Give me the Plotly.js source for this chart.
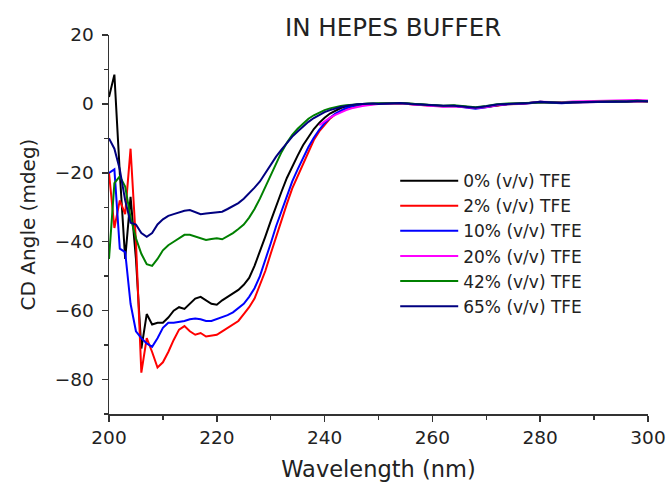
<!DOCTYPE html>
<html>
<head>
<meta charset="utf-8">
<script src="https://cdn.plot.ly/plotly-3.0.1.min.js"></script>
<style>html,body{margin:0;padding:0;background:#fff;}#chart{width:667px;height:483px;}</style>
</head>
<body>
<div id="chart"></div>
<script>
// Wavelength (nm): 1 nm steps 200-250, then 2 nm steps to 300
const wavelength = [200,201,202,203,204,205,206,207,208,209,210,211,212,213,214,215,216,217,218,219,220,221,222,223,224,225,226,227,228,229,230,231,232,233,234,235,236,237,238,239,240,241,242,243,244,245,246,247,248,249,250,
  252,254,256,258,260,262,264,266,268,270,272,274,276,278,280,282,284,286,288,290,292,294,296,298,300];
// the 20% trace only appears from ~239 nm on
const wavelength20 = [239,240,241,242,243,244,245,246,247,248,249,250,
  252,254,256,258,260,262,264,266,268,270,272,274,276,278,280,282,284,286,288,290,292,294,296,298,300];

const tfe0 = [2,8.5,-20,-45,-27,-45,-71,-61,-64,-63.5,-63.5,-62,-60,-59,-59.5,-58,-56.5,-56,-57,-58,-58.3,-57,-56,-55,-54,-52.5,-50.5,-47,-43,-38.5,-34,-29.5,-25.5,-21.5,-18,-15,-12,-9.5,-7.3,-5.5,-4,-2.8,-1.9,-1.2,-0.7,-0.4,-0.2,0,0,0.1,0,
  0.2,0.3,0,-0.3,-0.4,-0.6,-0.5,-0.8,-1.1,-0.8,-0.3,0,0,0.3,0.6,0.4,0.3,0.5,0.5,0.6,0.7,0.8,0.7,0.9,0.8];
const tfe2 = [-20,-36,-28,-32,-13,-40,-78,-68,-72,-76.5,-75,-72,-68.5,-65.5,-64.5,-66,-67,-66.5,-67.5,-67.3,-67,-66,-65,-64,-63,-61,-59,-56.5,-52.5,-48.5,-43.5,-38.5,-34,-29,-24.5,-21,-17,-13.5,-10.5,-8,-6,-4.3,-3,-2,-1.3,-0.8,-0.5,-0.3,-0.1,0,0,
  0.1,0.2,-0.1,-0.4,-0.5,-0.7,-0.6,-0.9,-1.2,-0.9,-0.4,-0.1,0,0.2,0.5,0.4,0.3,0.4,0.5,0.6,0.6,0.7,0.7,0.8,0.7];
const tfe10 = [-20,-19,-42,-43,-58,-66,-68,-69.5,-70.5,-68,-65,-63.5,-63.5,-63.3,-63,-62.5,-62.3,-62.5,-63,-63,-62.5,-62,-61.3,-60.5,-59.3,-58,-56,-53.5,-50,-45.5,-40.5,-35.5,-31,-26.5,-22.5,-19,-15.5,-12.5,-9.8,-7.5,-5.6,-4,-2.8,-1.9,-1.2,-0.7,-0.4,-0.2,0,0,0.1,
  0.2,0.3,0,-0.3,-0.5,-0.7,-0.6,-1,-1.4,-1,-0.4,-0.1,0,0.2,0.5,0.3,0.2,0.4,0.5,0.6,0.6,0.7,0.7,0.8,0.8];
const tfe20 = [-6.2,-5,-4,-3.2,-2.4,-1.8,-1.3,-0.9,-0.6,-0.4,-0.2,0,
  0.1,0.2,-0.1,-0.4,-0.5,-0.8,-0.7,-0.9,-1.2,-0.9,-0.3,0,0.1,0.3,0.6,0.5,0.5,0.7,0.8,0.8,0.9,1,1,1.1,1];
const tfe42 = [-45,-23,-21,-24,-33,-39,-43.5,-46.5,-47,-45,-42.5,-41,-40,-39,-38,-38,-38.5,-39,-39.5,-39.2,-39,-39.3,-38.5,-37.5,-36.3,-35,-33,-30.5,-27.5,-24,-20.5,-17,-14,-11.3,-9,-7.2,-5.6,-4.3,-3.3,-2.5,-1.8,-1.3,-0.9,-0.6,-0.4,-0.2,-0.1,0,0.1,0.1,0,
  0.2,0.3,0.1,-0.2,-0.3,-0.5,-0.4,-0.7,-1,-0.6,-0.1,0.1,0.2,0.4,0.6,0.5,0.4,0.5,0.6,0.6,0.7,0.8,0.7,0.9,0.8];
const tfe65 = [-10,-13,-19,-28,-34.5,-35,-37.5,-38.6,-37.5,-35,-33.5,-32.5,-32,-31.5,-31,-30.8,-31.3,-32,-31.8,-31.7,-31.5,-31.3,-30.5,-29.7,-28.8,-27.5,-26,-24.3,-22.5,-20,-17.5,-15.3,-13.3,-11.3,-9.5,-8,-6.5,-5.2,-4.1,-3.2,-2.4,-1.8,-1.3,-0.9,-0.6,-0.3,-0.1,0,0.1,0.1,0,
  0.2,0.3,0,-0.2,-0.4,-0.5,-0.5,-0.8,-1.1,-0.7,-0.2,0,0.1,0.3,0.6,0.4,0.3,0.5,0.5,0.6,0.6,0.7,0.7,0.8,0.8];

const seriesNames = ['0% (v/v) TFE','2% (v/v) TFE','10% (v/v) TFE','20% (v/v) TFE','42% (v/v) TFE','65% (v/v) TFE'];
const seriesX = [wavelength, wavelength, wavelength, wavelength20, wavelength, wavelength];
const seriesData = [tfe0, tfe2, tfe10, tfe20, tfe42, tfe65];
const seriesColors = ['#000000','#ff0000','#0000ff','#ff00ff','#008000','#000080'];

const traces = seriesData.map((d, i) => ({
  x: seriesX[i], y: d, type: 'scatter', mode: 'lines',
  name: seriesNames[i],
  line: {color: seriesColors[i], width: 2}
}));

const FONT = 'DejaVu Sans, Verdana, sans-serif';
const tickFont = {family: FONT, size: 18.5, color: '#222'};
const layout = {
  width: 667, height: 483,
  margin: {l: 109, r: 19, t: 35, b: 69},
  paper_bgcolor: '#fff', plot_bgcolor: '#fff',
  title: {text: 'IN HEPES BUFFER', font: {family: FONT, size: 24.5, color: '#222'},
          xref: 'paper', x: 0.527, xanchor: 'center', yref: 'container', y: 0.944, yanchor: 'middle'},
  xaxis: {range: [200, 300], showgrid: false, zeroline: false, showline: true, linecolor: '#333', linewidth: 1.5,
          ticks: 'outside', ticklen: 6, tickwidth: 1.5, tickcolor: '#333', dtick: 20, tick0: 200,
          minor: {dtick: 10, ticks: 'outside', ticklen: 4, tickwidth: 1.5, tickcolor: '#333'},
          tickfont: tickFont, title: {text: 'Wavelength (nm)', font: {family: FONT, size: 22.5, color: '#222'}, standoff: 14}},
  yaxis: {range: [-90, 20], showgrid: false, zeroline: false, showline: true, linecolor: '#333', linewidth: 1.5,
          ticks: 'outside', ticklen: 6, tickwidth: 1.5, tickcolor: '#333', dtick: 20, tick0: 0, ticklabelstandoff: 4,
          minor: {dtick: 10, ticks: 'outside', ticklen: 4, tickwidth: 1.5, tickcolor: '#333'},
          tickfont: tickFont, title: {text: 'CD Angle (mdeg)', font: {family: FONT, size: 20, color: '#222'}, standoff: 14}},
  legend: {x: 0.531, y: 0.662, xanchor: 'left', yanchor: 'top', bgcolor: 'rgba(0,0,0,0)',
           font: {family: FONT, size: 17, color: '#222'}, itemwidth: 58, traceorder: 'normal'},
  showlegend: true
};
Plotly.newPlot('chart', traces, layout, {staticPlot: true, displayModeBar: false});
</script>
</body>
</html>
